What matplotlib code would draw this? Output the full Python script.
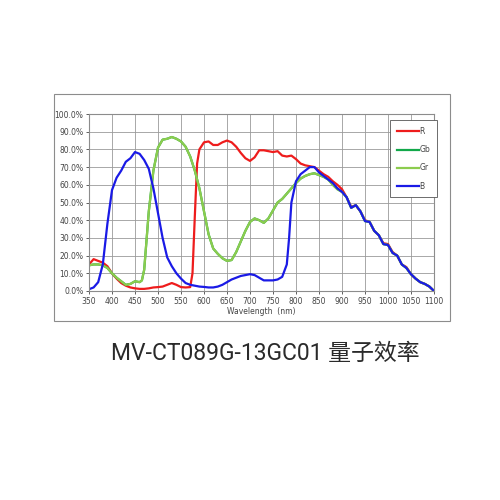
import matplotlib
matplotlib.use("Agg")
import matplotlib.pyplot as plt
from matplotlib.patches import Rectangle

# wavelength grids (nm) and quantum efficiency (%)
wl_r = [350, 360, 370, 380, 390, 400, 410, 420, 430, 440, 450, 460, 470, 480, 490,
        500, 510, 520, 530, 540, 550, 560, 570, 575, 580, 585, 590, 600, 610, 620,
        630, 640, 650, 660, 670, 680, 690, 700, 710, 720, 730, 740, 750, 760, 770,
        780, 790, 800, 810, 820, 830, 840, 850, 860, 870, 880, 890, 900, 910, 920,
        930, 940, 950, 960, 970, 980, 990, 1000, 1010, 1020, 1030, 1040, 1050,
        1060, 1070, 1080, 1090, 1100]
qe_r = [15, 18, 17, 16, 14, 10, 7, 4.5, 3, 2, 1.5, 1.2, 1.2, 1.5, 2,
        2.2, 2.5, 3.5, 4.5, 3.5, 2.2, 2, 2.2, 10, 42, 72, 80, 84, 84.5, 82.5,
        82.5, 84, 85, 84, 81.5, 78, 75, 73.5, 75.5, 79.5, 79.5, 79, 78.5, 79, 76.5,
        76, 76.5, 74.5, 72, 71, 70.5, 70, 68, 66, 64.5, 62, 60, 57.5, 53, 47.5,
        48.5, 45, 40, 39, 34, 31.5, 27, 26.5, 22, 20, 15, 13.5, 9.5,
        7, 5, 4, 2.5, 0]

wl_g = [350, 360, 370, 380, 390, 400, 410, 420, 430, 440, 450, 460, 465, 470, 480,
        490, 500, 510, 520, 530, 540, 550, 560, 570, 580, 590, 600, 610, 620, 630,
        640, 650, 660, 670, 680, 690, 700, 710, 720, 730, 740, 750, 760, 770, 780,
        790, 800, 810, 820, 830, 840, 850, 860, 870, 880, 890, 900, 910, 920, 930,
        940, 950, 960, 970, 980, 990, 1000, 1010, 1020, 1030, 1040, 1050, 1060,
        1070, 1080, 1090, 1100]
qe_gr = [14.5, 15, 15, 14.5, 13, 10, 7.5, 5.5, 3.5, 4, 5.5, 5, 6, 12, 45,
         68, 81, 85.5, 86, 87, 86, 84.5, 81.5, 76, 68, 58, 45, 32, 24, 21,
         18.5, 17, 17.5, 22, 28, 34, 39, 41, 40, 38.5, 41, 45.5, 50, 52, 55,
         58, 61, 63.5, 65, 66, 66.5, 65.5, 64.5, 63, 60, 57.5, 56, 53, 47, 48.5,
         45, 39.5, 39, 34, 31.5, 26.5, 26, 21.5, 20, 15, 13, 9.5, 7,
         5, 4, 2.5, 0]
qe_gb = [14.5, 15, 15, 14.5, 13, 10, 7.5, 5.5, 3.5, 4, 5.5, 5, 6, 12, 45,
         68, 81, 85.5, 86, 87, 86, 84.5, 81.5, 76, 68, 58, 45, 32, 24, 21,
         18.5, 17, 17.5, 22, 28, 34, 39, 41, 40, 38.5, 41, 45.5, 50, 52, 55,
         58, 61, 63.5, 65, 66, 66.5, 65.5, 64.5, 63, 60, 57.5, 56, 53, 47, 48.5,
         45, 39.5, 39, 34, 31.5, 26.5, 26, 21.5, 20, 15, 13, 9.5, 7,
         5, 4, 2.5, 0]

wl_b = [350, 360, 370, 380, 390, 400, 410, 420, 430, 440, 450, 460, 470, 480, 490,
        500, 510, 520, 530, 540, 550, 560, 570, 580, 590, 600, 610, 620, 630, 640,
        650, 660, 670, 680, 690, 700, 710, 720, 730, 740, 750, 760, 770, 780, 785,
        790, 800, 810, 820, 830, 840, 850, 860, 870, 880, 890, 900, 910, 920, 930,
        940, 950, 960, 970, 980, 990, 1000, 1010, 1020, 1030, 1040, 1050, 1060,
        1070, 1080, 1090, 1100]
qe_b = [1, 2, 5, 15, 38, 57, 64, 68, 73, 75, 78.5, 77.5, 74, 69, 58,
        44, 30, 19, 14, 10, 7, 4.5, 3.5, 3, 2.5, 2.3, 2, 2, 2.5, 3.5,
        5, 6.5, 7.5, 8.5, 9, 9.5, 9, 7.5, 6, 6, 6, 6.5, 8, 15, 30,
        50, 62, 66, 68, 70, 70, 67, 65, 63, 61, 58, 56, 53, 47, 48.5,
        45, 39.5, 39, 34, 31.5, 26.5, 26, 21.5, 20, 15, 13, 9.5, 7,
        5, 4, 2.5, 0]

x_ticks = list(range(350, 1101, 50))
y_ticks = list(range(0, 101, 10))

fig = plt.figure(figsize=(5, 5), dpi=100)

# outer chart frame
fig.patches.append(Rectangle((0.108, 0.358), 0.792, 0.454, transform=fig.transFigure,
                             fill=False, edgecolor="#8c8c8c", linewidth=0.8))

ax = fig.add_axes([0.178, 0.418, 0.69, 0.354])
ax.plot(wl_r, qe_r, color="#ee1c1c", lw=1.6, label="R")
ax.plot(wl_g, qe_gb, color="#12a84a", lw=1.6, label="Gb")
ax.plot(wl_g, qe_gr, color="#8ccc4e", lw=1.6, label="Gr")
ax.plot(wl_b, qe_b, color="#1a1ae6", lw=1.6, label="B")

ax.set_xlim(350, 1100)
ax.set_ylim(0, 100)
ax.set_xticks(x_ticks)
ax.set_yticks(y_ticks)
ax.set_xticklabels([str(v) for v in x_ticks])
ax.set_yticklabels([f"{v:.1f}%" for v in y_ticks])
ax.tick_params(labelsize=5.5, colors="#444444", length=2, width=0.6, pad=2)
ax.grid(True, color="#9a9a9a", linewidth=0.6)
for s in ax.spines.values():
    s.set_color("#8c8c8c")
    s.set_linewidth(0.8)
ax.set_xlabel("Wavelength  (nm)", fontsize=5.5, color="#444444", labelpad=1)

leg = ax.legend(loc="upper right", bbox_to_anchor=(1.008, 0.965), fontsize=5.5,
                handlelength=2.8, handletextpad=0.05, labelspacing=1.2,
                fancybox=False, framealpha=1, borderpad=0.9, borderaxespad=0)
leg.get_frame().set_edgecolor("#555555")
leg.get_frame().set_linewidth(0.6)
for t in leg.get_texts():
    t.set_color("#444444")

fig.text(0.53, 0.294, "MV-CT089G-13GC01 量子效率", ha="center", va="center",
         fontsize=16.5, family=["Roboto", "Noto Sans CJK SC"], color="#2a2a2a")

fig.savefig("out.png", dpi=100)
